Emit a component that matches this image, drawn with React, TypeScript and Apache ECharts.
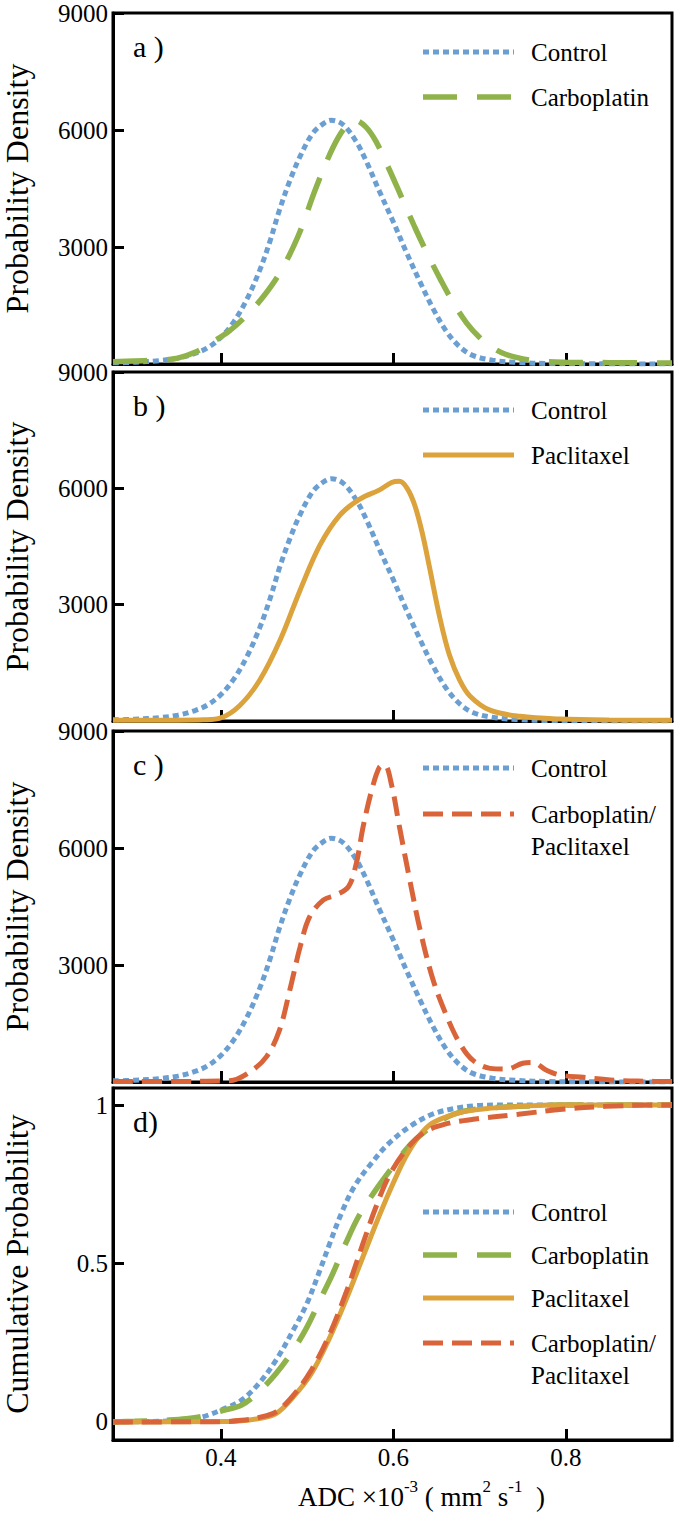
import React, { useEffect, useRef } from "react";
import * as echarts from "echarts";

const FONT = "Liberation Serif";

// ---- data (ADC x10^-3 mm^2/s, value) ----
const controlPdf = [
  [0.275, 30], [0.3, 45], [0.33, 90], [0.35, 150], [0.37, 270], [0.385, 420], [0.4, 680],
  [0.415, 1080], [0.43, 1650], [0.445, 2400], [0.457, 3150], [0.468, 3950], [0.48, 4700],
  [0.492, 5330], [0.507, 5930], [0.52, 6180], [0.528, 6250], [0.542, 6130], [0.557, 5700],
  [0.569, 5180], [0.584, 4420], [0.6, 3640], [0.615, 2870], [0.631, 2100], [0.646, 1420],
  [0.662, 820], [0.677, 440], [0.692, 220], [0.715, 95], [0.743, 40], [0.78, 12], [0.82, 5], [0.923, 0],
];
const carboplatinPdf = [
  [0.275, 60], [0.3, 80], [0.33, 100], [0.35, 150], [0.37, 300], [0.39, 560], [0.41, 850],
  [0.43, 1250], [0.45, 1750], [0.47, 2400], [0.49, 3300], [0.51, 4500], [0.53, 5550],
  [0.545, 6100], [0.555, 6250], [0.568, 6080], [0.58, 5700], [0.595, 5000], [0.61, 4250],
  [0.625, 3500], [0.64, 2800], [0.655, 2150], [0.67, 1550], [0.685, 1050], [0.7, 680],
  [0.715, 420], [0.73, 250], [0.75, 130], [0.77, 70], [0.8, 45], [0.85, 35], [0.923, 25],
];
const paclitaxelPdf = [
  [0.275, 20], [0.35, 20], [0.38, 30], [0.4, 80], [0.422, 400], [0.445, 1050], [0.469, 2100],
  [0.492, 3380], [0.515, 4540], [0.538, 5310], [0.561, 5720], [0.584, 5960], [0.598, 6150],
  [0.607, 6180], [0.616, 6000], [0.625, 5550], [0.634, 4800], [0.642, 3950], [0.654, 2650],
  [0.665, 1700], [0.677, 1050], [0.689, 640], [0.712, 280], [0.747, 120], [0.793, 50],
  [0.85, 25], [0.923, 20],
];
const comboPdf = [
  [0.275, 15], [0.35, 15], [0.41, 30], [0.434, 265], [0.453, 650], [0.468, 1330], [0.48, 2360],
  [0.492, 3470], [0.503, 4240], [0.519, 4670], [0.534, 4800], [0.548, 5010], [0.557, 5600],
  [0.565, 6550], [0.575, 7490], [0.584, 8080], [0.59, 8120], [0.598, 7610], [0.607, 6550],
  [0.619, 5180], [0.631, 3900], [0.646, 2620], [0.662, 1680], [0.677, 990], [0.692, 560],
  [0.712, 350], [0.731, 330], [0.75, 480], [0.762, 500], [0.777, 310], [0.793, 180],
  [0.82, 120], [0.86, 40], [0.89, 20], [0.923, 10],
];

const controlCdf = [
  [0.275, 0], [0.33, 0.002], [0.36, 0.006], [0.379, 0.016], [0.404, 0.042], [0.424, 0.069],
  [0.444, 0.121], [0.464, 0.195], [0.484, 0.29], [0.5, 0.375], [0.515, 0.48], [0.525, 0.554],
  [0.54, 0.66], [0.555, 0.744], [0.575, 0.818], [0.595, 0.88], [0.62, 0.934], [0.645, 0.971],
  [0.67, 0.989], [0.695, 0.998], [0.72, 1], [0.923, 1],
];
const carboplatinCdf = [
  [0.275, 0], [0.3, 0.002], [0.34, 0.006], [0.36, 0.01], [0.379, 0.018], [0.404, 0.037],
  [0.424, 0.053], [0.444, 0.095], [0.464, 0.153], [0.484, 0.227], [0.5, 0.3], [0.515, 0.385],
  [0.53, 0.47], [0.545, 0.565], [0.56, 0.65], [0.58, 0.734], [0.6, 0.808], [0.62, 0.876],
  [0.645, 0.934], [0.67, 0.971], [0.695, 0.987], [0.745, 0.996], [0.8, 1], [0.923, 1],
];
const paclitaxelCdf = [
  [0.275, 0], [0.4, 0.001], [0.424, 0.004], [0.444, 0.011], [0.464, 0.026], [0.484, 0.079],
  [0.505, 0.153], [0.525, 0.259], [0.545, 0.385], [0.565, 0.523], [0.585, 0.66], [0.6, 0.755],
  [0.615, 0.84], [0.63, 0.903], [0.645, 0.943], [0.67, 0.971], [0.695, 0.985], [0.745, 0.996],
  [0.8, 1], [0.923, 1],
];
const comboCdf = [
  [0.275, 0], [0.4, 0.001], [0.424, 0.005], [0.444, 0.014], [0.464, 0.032], [0.484, 0.084],
  [0.505, 0.164], [0.525, 0.27], [0.545, 0.407], [0.565, 0.565], [0.58, 0.68], [0.595, 0.776],
  [0.615, 0.86], [0.635, 0.913], [0.66, 0.94], [0.695, 0.956], [0.745, 0.971], [0.796, 0.987],
  [0.846, 0.996], [0.9, 1], [0.923, 1],
];

const xTicks = [0.4, 0.6, 0.8];
const densityTicks = [3000, 6000, 9000];
const cumulativeTicks = [0, 0.5, 1];
const seriesNames = {
  control: "Control",
  carboplatin: "Carboplatin",
  paclitaxel: "Paclitaxel",
  combo: "Carboplatin/\nPaclitaxel",
};

const STYLE: Record<string, { color: string; width: number; dash: any }> = {
  control: { color: "#6b9fd2", width: 5, dash: [6, 4] },
  carboplatin: { color: "#8fb34a", width: 5.5, dash: [34, 20] },
  paclitaxel: { color: "#dca23b", width: 5, dash: "solid" },
  combo: { color: "#d9643a", width: 5, dash: [20, 9] },
};

const PANELS = [
  { top: 13, height: 351, label: "a )", kind: "pdf", keys: ["control", "carboplatin"], rows: [39, 84] },
  { top: 372, height: 349, label: "b )", kind: "pdf", keys: ["control", "paclitaxel"], rows: [38, 83] },
  { top: 731, height: 351, label: "c )", kind: "pdf", keys: ["control", "combo"], rows: [37, 83] },
  {
    top: 1088, height: 352, label: "d)", kind: "cdf",
    keys: ["control", "carboplatin", "paclitaxel", "combo"], rows: [124, 167, 210, 255],
  },
];

const PDFS: Record<string, number[][]> = {
  control: controlPdf, carboplatin: carboplatinPdf, paclitaxel: paclitaxelPdf, combo: comboPdf,
};
const CDFS: Record<string, number[][]> = {
  control: controlCdf, carboplatin: carboplatinCdf, paclitaxel: paclitaxelCdf, combo: comboCdf,
};

function buildOption() {
  const LEFT = 113;
  const RIGHT = 3;
  const grid: any[] = [];
  const xAxis: any[] = [];
  const yAxis: any[] = [];
  const series: any[] = [];
  const graphic: any[] = [];
  const title: any[] = [];

  PANELS.forEach((p, i) => {
    const isCdf = p.kind === "cdf";
    grid.push({
      left: LEFT, right: RIGHT, top: p.top, height: p.height,
      containLabel: false, outerBoundsMode: "none",
      show: true, borderColor: "#000", borderWidth: 3, backgroundColor: "transparent",
    });
    xAxis.push({
      type: "value", gridIndex: i, min: 0.275, max: 0.923, splitNumber: 3,
      axisLine: { show: true, onZero: false, lineStyle: { color: "#000", width: 3 } },
      axisTick: { show: true, inside: true, length: 11, customValues: xTicks, lineStyle: { color: "#000", width: 3 } },
      axisLabel: {
        show: isCdf, customValues: xTicks, fontSize: 25, fontFamily: FONT, color: "#000", margin: 5,
        formatter: (v: number) => v.toFixed(1),
      },
      splitLine: { show: false },
      name: isCdf ? "{n|ADC ×10}{s|-3}{n| ( mm}{s|2}{n| s}{s|-1}{n|  )}" : "",
      nameLocation: "middle",
      nameGap: 38,
      nameTextStyle: {
        fontSize: 27,
        fontFamily: FONT,
        padding: [0, 0, 0, 58],
        rich: {
          n: { fontSize: 27, fontFamily: FONT, color: "#000", lineHeight: 32, verticalAlign: "bottom" },
          s: { fontSize: 17, fontFamily: FONT, color: "#000", lineHeight: 32, verticalAlign: "top" },
        },
      },
    });
    yAxis.push({
      type: "value", gridIndex: i,
      min: isCdf ? -0.057 : 0, max: isCdf ? 1.054 : 9000,
      ...(isCdf ? {} : { interval: 3000 }),
      axisLine: { show: true, onZero: false, lineStyle: { color: "#000", width: 3 } },
      axisTick: {
        show: true, inside: true, length: 11,
        customValues: isCdf ? cumulativeTicks : densityTicks,
        lineStyle: { color: "#000", width: 3 },
      },
      axisLabel: {
        fontSize: 25, fontFamily: FONT, color: "#000", margin: 5,
        customValues: isCdf ? cumulativeTicks : densityTicks,
        formatter: (v: number) => (!isCdf && v === 0 ? "" : String(v)),
      },
      splitLine: { show: false },
      name: isCdf ? "Cumulative Probability" : "Probability Density",
      nameLocation: "middle",
      nameGap: 80,
      nameTextStyle: { fontSize: 32, fontFamily: FONT, color: "#000" },
    });

    p.keys.forEach((k) => {
      const st = STYLE[k];
      series.push({
        type: "line",
        name: seriesNames[k as keyof typeof seriesNames],
        xAxisIndex: i, yAxisIndex: i,
        data: isCdf ? CDFS[k] : PDFS[k],
        smooth: 0.35,
        showSymbol: false, symbol: "none",
        lineStyle: { color: st.color, width: st.width, type: st.dash, cap: "butt" },
        z: 3,
      });
    });

    // panel label
    title.push({
      text: p.label, left: 133, top: p.top + 16, padding: 0, itemGap: 0,
      textStyle: { fontSize: 30, fontFamily: FONT, color: "#000", fontWeight: "normal", lineHeight: 34 },
    });

    // legend
    p.keys.forEach((k, j) => {
      const st = STYLE[k];
      const y = p.top + p.rows[j];
      graphic.push({
        type: "line",
        shape: { x1: 423, y1: y, x2: 514, y2: y },
        style: { stroke: st.color, lineWidth: st.width, lineDash: st.dash === "solid" ? null : st.dash },
      });
      title.push({
        text: seriesNames[k as keyof typeof seriesNames],
        left: 531, top: y - 16, padding: 0, itemGap: 0,
        textStyle: { fontSize: 25, fontFamily: FONT, color: "#000", fontWeight: "normal", lineHeight: 32 },
      });
    });
  });

  return {
    animation: false,
    backgroundColor: "#fff",
    textStyle: { fontFamily: FONT },
    title, grid, xAxis, yAxis, series, graphic,
  };
}

export default function App() {
  const ref = useRef<HTMLDivElement>(null);
  useEffect(() => {
    const chart = echarts.init(ref.current!, null, { renderer: "svg" });
    chart.setOption(buildOption() as any);
    return () => chart.dispose();
  }, []);
  return (
    <>
      <style>{`.adc-chart text, .adc-chart tspan { font-family: 'Liberation Serif', 'Times New Roman', serif !important; }`}</style>
      <div
        ref={ref}
        className="adc-chart"
        style={{ position: "absolute", left: 0, top: 0, width: 675, height: 1529, background: "#fff" }}
      />
    </>
  );
}
